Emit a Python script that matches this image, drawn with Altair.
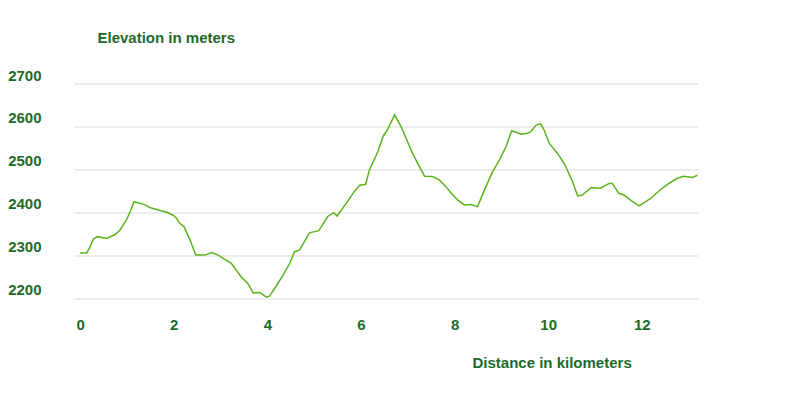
import altair as alt
import pandas as pd

km = [0, 0.14, 0.2, 0.28, 0.37, 0.57, 0.75, 0.85, 0.99, 1.07, 1.15, 1.24, 1.39, 1.49, 1.67, 1.85,
      1.99, 2.06, 2.13, 2.22, 2.35, 2.47, 2.67, 2.81, 2.95, 3.09, 3.23, 3.45, 3.59, 3.7, 3.84,
      3.98, 4.05, 4.19, 4.34, 4.48, 4.58, 4.69, 4.9, 5.1, 5.29, 5.42, 5.49, 5.69, 5.83, 5.97,
      6.1, 6.18, 6.36, 6.47, 6.57, 6.72, 6.86, 7.07, 7.21, 7.36, 7.53, 7.68, 7.82, 7.93, 8.07,
      8.21, 8.35, 8.49, 8.64, 8.81, 8.96, 9.1, 9.22, 9.42, 9.56, 9.63, 9.74, 9.84, 9.91, 10.02,
      10.2, 10.36, 10.52, 10.63, 10.73, 10.91, 11.12, 11.3, 11.37, 11.51, 11.62, 11.76, 11.94,
      12.19, 12.4, 12.58, 12.76, 12.9, 13.08, 13.19]
elev = [2305, 2305, 2316, 2337, 2343, 2339, 2348, 2358, 2382, 2401, 2424, 2422, 2417, 2411, 2405, 2400,
        2393, 2386, 2374, 2366, 2335, 2300, 2300, 2306, 2300, 2290, 2281, 2248, 2233, 2212, 2213,
        2202, 2205, 2228, 2254, 2281, 2308, 2312, 2352, 2357, 2390, 2399, 2391, 2421, 2444, 2463,
        2465, 2498, 2541, 2576, 2593, 2627, 2599, 2545, 2514, 2484, 2483, 2475, 2459, 2444, 2428,
        2417, 2418, 2413, 2452, 2494, 2522, 2553, 2590, 2582, 2584, 2588, 2603, 2606, 2592, 2561,
        2537, 2510, 2471, 2438, 2440, 2457, 2456, 2467, 2467, 2444, 2440, 2428, 2415,
        2432, 2453, 2467, 2479, 2484, 2481, 2486]

x_ticks = [0, 2, 4, 6, 8, 10, 12]
y_ticks = [2200, 2300, 2400, 2500, 2600, 2700]

df = pd.DataFrame({"km": km, "elev": elev})

GREEN_TXT = "#1d6b2c"
FONT = "Liberation Sans"

chart = alt.Chart(df).mark_line(color="#5cb31c", strokeWidth=1.5).encode(
    x=alt.X("km:Q", scale=alt.Scale(domain=[-0.13, 13.2], nice=False, zero=False),
            axis=alt.Axis(values=x_ticks, grid=False, domain=False, ticks=False, format="d",
                          labelFont=FONT, labelFontSize=15, labelFontWeight="bold",
                          labelColor=GREEN_TXT, labelPadding=19,
                          title="Distance in kilometers", titleFont=FONT, titleFontSize=15,
                          titleFontWeight="bold", titleColor=GREEN_TXT,
                          titleX=398, titleY=64, titleAlign="left", titleBaseline="middle",
                          titleAnchor="start")),
    y=alt.Y("elev:Q", scale=alt.Scale(domain=[2200, 2700], nice=False, zero=False),
            axis=alt.Axis(values=y_ticks, grid=True, gridColor="#e6e6e6", gridWidth=1.5,
                          domain=False, ticks=False, format="d",
                          labelFont=FONT, labelFontSize=15, labelFontWeight="bold",
                          labelColor=GREEN_TXT, labelPadding=33, labelOffset=-8.5,
                          title="Elevation in meters", titleFont=FONT, titleFontSize=15,
                          titleFontWeight="bold", titleColor=GREEN_TXT, titleAngle=0,
                          titleX=23, titleY=-46.5, titleAlign="left", titleBaseline="middle",
                          titleAnchor="start")),
).properties(
    width=624, height=214.5,
    autosize=alt.AutoSizeParams(type="none"),
    padding={"left": 66, "top": 75.5, "right": 80, "bottom": 80},
).configure_view(stroke=None)

chart.save("out.html", embed_options={"renderer": "svg", "actions": False})
